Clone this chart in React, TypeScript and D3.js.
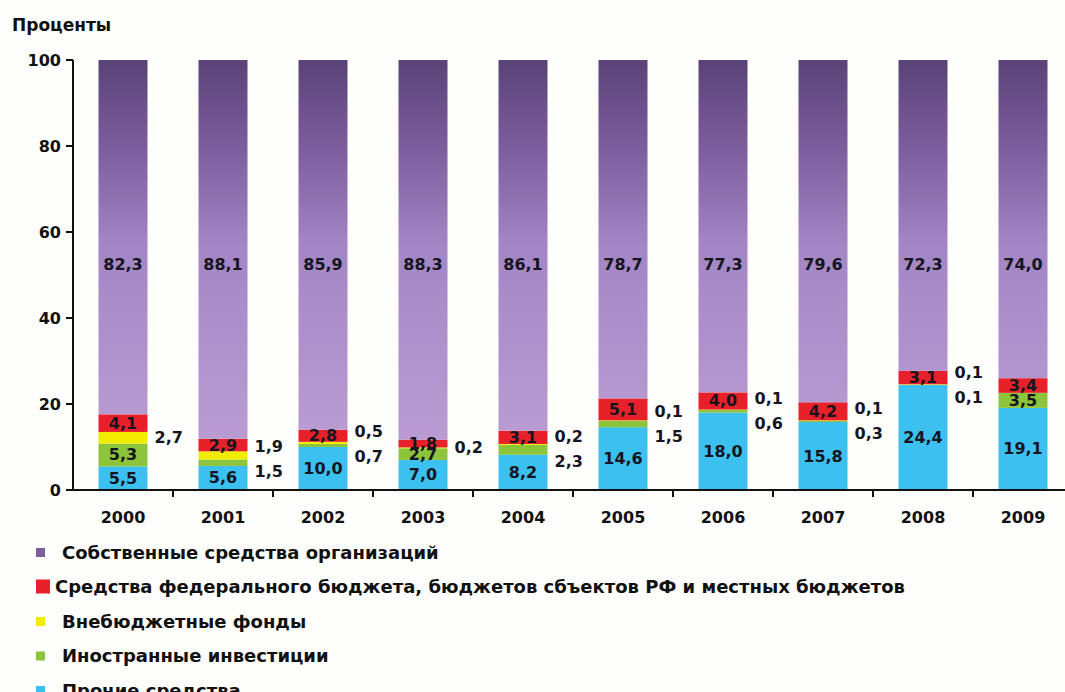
import React from "react";
import * as d3 from "d3";

const years = ["2000", "2001", "2002", "2003", "2004", "2005", "2006", "2007", "2008", "2009"];
const other = [5.5, 5.6, 10.0, 7.0, 8.2, 14.6, 18.0, 15.8, 24.4, 19.1];
const foreign = [5.3, 1.5, 0.7, 2.7, 2.3, 1.5, 0.6, 0.3, 0.1, 3.5];
const extraBudget = [2.7, 1.9, 0.5, 0.2, 0.2, 0.1, 0.1, 0.1, 0.1, 0];
const budget = [4.1, 2.9, 2.8, 1.8, 3.1, 5.1, 4.0, 4.2, 3.1, 3.4];
const own = [82.3, 88.1, 85.9, 88.3, 86.1, 78.7, 77.3, 79.6, 72.3, 74.0];
const yTicks = [0, 20, 40, 60, 80, 100];

const legendItems = [
  { name: "Собственные средства организаций", color: "#7b5f9c", big: false },
  { name: "Средства федерального бюджета, бюджетов сбъектов РФ и местных бюджетов", color: "#e8202a", big: true },
  { name: "Внебюджетные фонды", color: "#f2ec00", big: false },
  { name: "Иностранные инвестиции", color: "#8cc43c", big: false },
  { name: "Прочие  средства", color: "#3cc0ef", big: false },
];

const COLORS = { other: "#3cc0ef", foreign: "#8cc43c", extra: "#f2ec00", budget: "#e8202a" };
const FONT = "'DejaVu Sans', Verdana, sans-serif";
const fmt = (v: number) => v.toFixed(1).replace(".", ",");

export default function App() {
  const W = 1065, H = 692;
  const x = d3.scaleBand<string>().domain(years).range([73, 1073]).paddingInner(0.51).paddingOuter(0.255);
  const y = d3.scaleLinear().domain([0, 100]).range([490, 60]);
  const bw = x.bandwidth();

  const series = [
    { key: "other", vals: other, color: COLORS.other },
    { key: "foreign", vals: foreign, color: COLORS.foreign },
    { key: "extra", vals: extraBudget, color: COLORS.extra },
    { key: "budget", vals: budget, color: COLORS.budget },
    { key: "own", vals: own, color: "url(#ownGrad)" },
  ];

  const rects: React.ReactNode[] = [];
  const labels: React.ReactNode[] = [];
  const labelStyle = { fontFamily: FONT, fontWeight: 700, fontSize: 16, fill: "#15151f" } as const;

  years.forEach((yr, i) => {
    let base = 0;
    const x0 = x(yr)!;
    const cx = x0 + bw / 2;
    const bounds: Record<string, [number, number]> = {};
    series.forEach((s) => {
      const v = s.vals[i];
      const top = base + v;
      bounds[s.key] = [base, top];
      if (v > 0) {
        const yt = y(s.key === "own" ? 100 : top);
        rects.push(
          <rect key={`${yr}-${s.key}`} x={x0} y={yt} width={bw} height={y(base) - yt} fill={s.color} />
        );
      }
      base = top;
    });
    const inside = (key: string, v: number, yy: number) =>
      labels.push(
        <text key={`${yr}-${key}-l`} x={cx} y={yy} textAnchor="middle" dominantBaseline="central" style={labelStyle}>{fmt(v)}</text>
      );
    inside("other", other[i], y((bounds.other[0] + bounds.other[1]) / 2));
    inside("budget", budget[i], y((bounds.budget[0] + bounds.budget[1]) / 2));
    inside("own", own[i], y(52.5));
    const fIn = foreign[i] >= 2.5;
    if (fIn) inside("foreign", foreign[i], y((bounds.foreign[0] + bounds.foreign[1]) / 2));
    const outs: { key: string; v: number }[] = [];
    if (extraBudget[i] > 0) outs.push({ key: "extra", v: extraBudget[i] });
    if (!fIn) outs.push({ key: "foreign", v: foreign[i] });
    const ox = x0 + bw + 7;
    if (outs.length === 1) {
      const b = bounds[outs[0].key];
      labels.push(
        <text key={`${yr}-o1`} x={ox} y={y((b[0] + b[1]) / 2)} dominantBaseline="central" style={labelStyle}>{fmt(outs[0].v)}</text>
      );
    } else if (outs.length === 2) {
      const mid = y((bounds.foreign[0] + bounds.extra[1]) / 2);
      labels.push(
        <text key={`${yr}-oe`} x={ox} y={mid - 12.5} dominantBaseline="central" style={labelStyle}>{fmt(extraBudget[i])}</text>,
        <text key={`${yr}-of`} x={ox} y={mid + 12.5} dominantBaseline="central" style={labelStyle}>{fmt(foreign[i])}</text>
      );
    }
  });

  return (
    <svg width={W} height={H} style={{ position: "fixed", left: 0, top: 0, background: "#fefefd" }}>
      <defs>
        <linearGradient id="ownGrad" gradientUnits="userSpaceOnUse" x1="0" y1={y(100)} x2="0" y2={y(15)}>
          <stop offset="0" stopColor="#5a4378" />
          <stop offset="0.25" stopColor="#7d5e9e" />
          <stop offset="0.5" stopColor="#a285c4" />
          <stop offset="1" stopColor="#b99bd2" />
        </linearGradient>
      </defs>
      <text x={12} y={31} style={{ fontFamily: FONT, fontWeight: 700, fontSize: 17, fill: "#111" }}>Проценты</text>
      {rects}
      <line x1={73} x2={73} y1={y(100)} y2={y(0)} stroke="#111" strokeWidth={2} />
      {yTicks.map((t) => (
        <g key={t}>
          <line x1={66} x2={73} y1={y(t)} y2={y(t)} stroke="#111" strokeWidth={2} />
          <text x={61} y={y(t)} textAnchor="end" dominantBaseline="central"
            style={{ fontFamily: FONT, fontWeight: 700, fontSize: 16, fill: "#111" }}>{t}</text>
        </g>
      ))}
      <line x1={72} x2={1073} y1={y(0)} y2={y(0)} stroke="#111" strokeWidth={2} />
      {years.map((yr, i) => (
        <g key={yr}>
          {i > 0 && <line x1={x(yr)! - 25.5} x2={x(yr)! - 25.5} y1={y(0)} y2={y(0) + 7} stroke="#111" strokeWidth={2} />}
          <text x={x(yr)! + bw / 2} y={517} textAnchor="middle" dominantBaseline="central"
            style={{ fontFamily: FONT, fontWeight: 700, fontSize: 16, fill: "#111" }}>{yr}</text>
        </g>
      ))}
      {labels}
      {legendItems.map((it, i) => {
        const cy = 552 + i * 34.5;
        return (
          <g key={it.name}>
            {it.big ? (
              <rect x={36} y={cy - 7} width={14} height={14} fill={it.color} />
            ) : (
              <rect x={36} y={cy - 4} width={9} height={9} fill={it.color} />
            )}
            <text x={it.big ? 55 : 62} y={cy} dominantBaseline="central"
              style={{ fontFamily: FONT, fontWeight: 700, fontSize: 18, fill: "#111" }}>{it.name}</text>
          </g>
        );
      })}
    </svg>
  );
}
